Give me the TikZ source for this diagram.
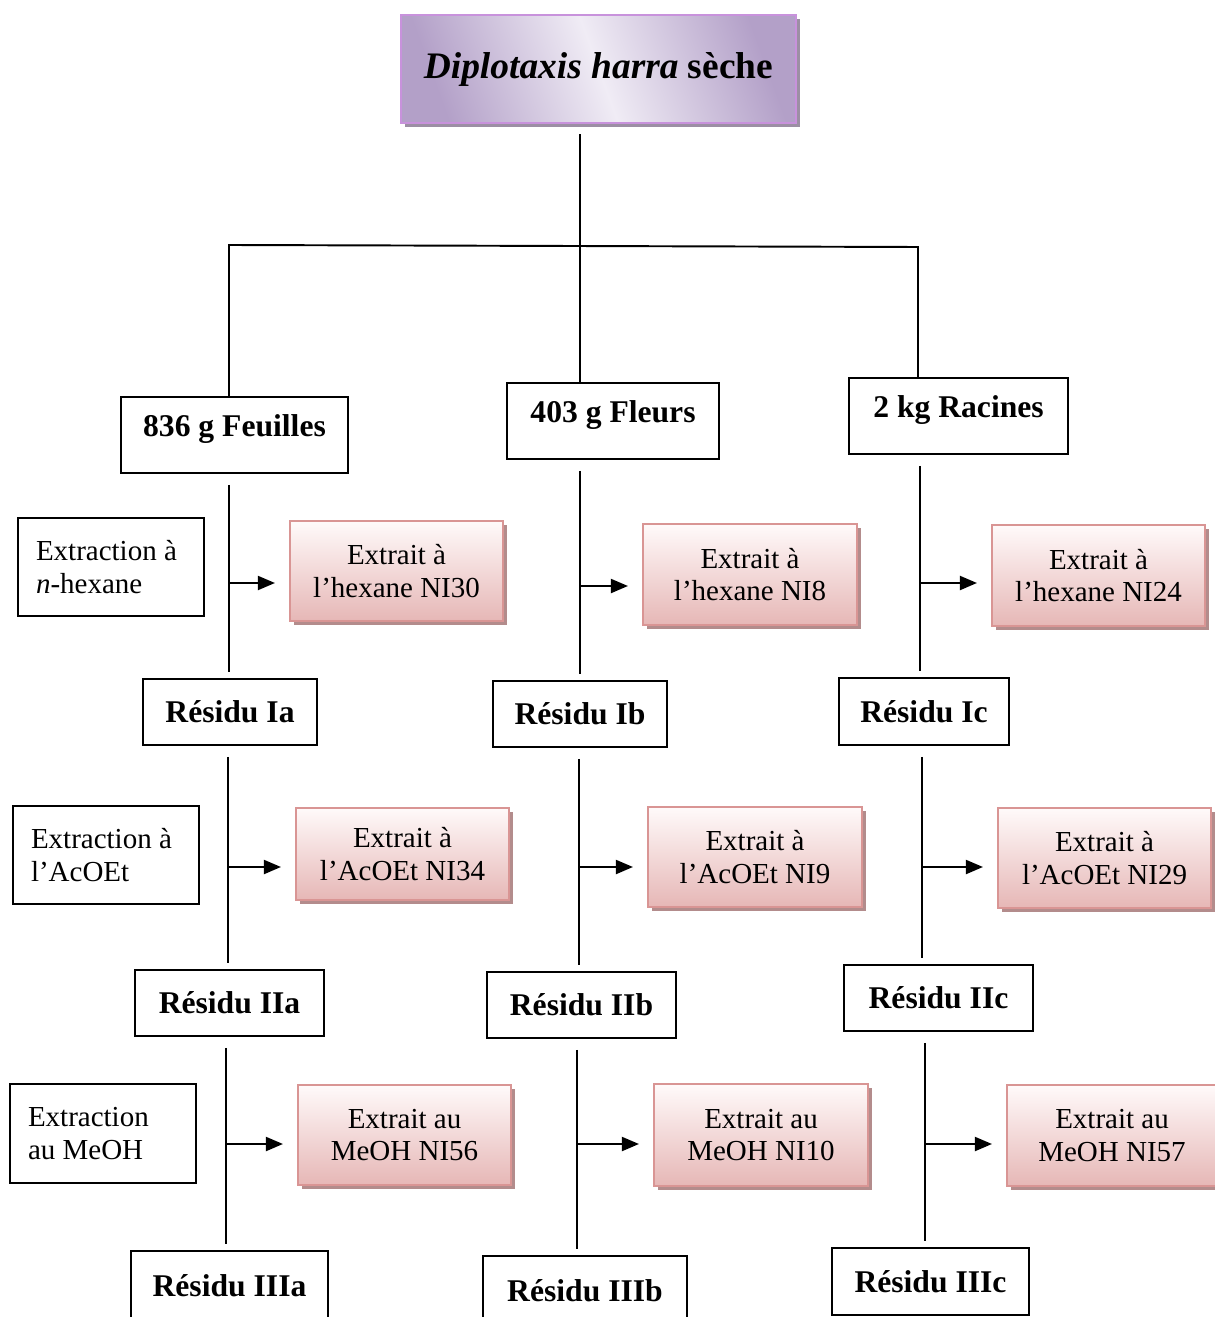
\documentclass[tikz,border=0pt]{standalone}
\usepackage{fontspec}
\setmainfont{Liberation Serif}
\usepackage{tikz}
\usetikzlibrary{arrows.meta, calc, shadows}
\usepackage{xcolor}
\definecolor{titleEdge}{HTML}{C892DC}
\definecolor{titleDark}{HTML}{B3A0C8}
\definecolor{titleLight}{HTML}{F0ECF5}
\definecolor{titleShadow}{HTML}{9C8FA4}
\definecolor{extraitEdge}{HTML}{D99594}
\definecolor{extraitTop}{HTML}{FFFAFA}
\definecolor{extraitBottom}{HTML}{E6B7B6}
\definecolor{extraitShadow}{HTML}{B38C8C}

\tikzset{
  sz/.style 2 args={minimum width=#1*0.02cm, minimum height=#2*0.02cm},
  box/.style={draw=black, line width=1pt, fill=white, inner sep=0pt},
  stage/.style={box, font=\fontsize{18}{20}\selectfont\bfseries},
  partie/.style={stage, text height=12pt, text depth=10pt},
  methode/.style={box, align=flush left, text width=3cm, font=\fontsize{16.5}{18.7}\selectfont},
  extrait/.style={draw=extraitEdge, line width=1.2pt, inner sep=0pt,
    top color=extraitTop, bottom color=extraitBottom, align=center,
    font=\fontsize{16.5}{18.7}\selectfont,
    drop shadow={shadow xshift=0.08cm, shadow yshift=-0.08cm,
                 fill=extraitShadow, opacity=1}},
  link/.style={line width=1.1pt},
  trunk/.style={link, shorten <=0.22cm, shorten >=0.12cm},
  arr/.style={link, -{Triangle[length=0.34cm, width=0.28cm]}, shorten >=0.28cm},
}

\begin{document}
\begin{tikzpicture}[x=0.02cm, y=-0.02cm]
  \useasboundingbox (0,0) rectangle (1214,1317);

  % plante
  \node[draw=titleEdge, line width=1.6pt, sz={395}{108},
        top color=titleDark, bottom color=titleDark, middle color=titleLight,
        shading angle=-70,
        drop shadow={shadow xshift=0.08cm, shadow yshift=-0.08cm,
                     fill=titleShadow, opacity=1},
        font=\fontsize{21.3}{24}\selectfont\bfseries]
    (plante) at (598.5,69) {\textit{Diplotaxis harra} sèche};

  % parties
  \node[partie, sz={227}{76}] (feu) at (234.5,435) {836 g Feuilles};
  \node[partie, sz={212}{76}] (fle) at (613,421) {403 g Fleurs};
  \node[partie, sz={219}{76}] (rac) at (958.5,416) {2 kg Racines};

  \coordinate (split) at (580,246);
  \coordinate (lt) at (229,245);
  \coordinate (rt) at (918,247);
  \draw[link, shorten <=0.2cm] (split |- plante.south) -- (split |- fle.north);
  \draw[link] (lt |- feu.north) -- (lt) -- (rt) -- (rt |- rac.north);

  % methodes
  \node[methode, sz={186}{98}] (meth1) at (111,567) {Extraction à\\\textit{n}-hexane};
  \node[methode, sz={186}{98}] (meth2) at (106,855) {Extraction à\\l’AcOEt};
  \node[methode, sz={186}{99}] (meth3) at (103,1133.5) {Extraction\\au MeOH};

  % residus
  \node[stage, sz={174}{66}] (resIa) at (230,712) {Résidu Ia};
  \node[stage, sz={189}{66}] (resIIa) at (229.5,1003) {Résidu IIa};
  \node[stage, sz={197}{70}] (resIIIa) at (229.5,1286) {Résidu IIIa};
  \node[stage, sz={174}{66}] (resIb) at (580,714) {Résidu Ib};
  \node[stage, sz={189}{66}] (resIIb) at (581.5,1005) {Résidu IIb};
  \node[stage, sz={204}{70}] (resIIIb) at (585,1291) {Résidu IIIb};
  \node[stage, sz={170}{67}] (resIc) at (924,711.5) {Résidu Ic};
  \node[stage, sz={189}{66}] (resIIc) at (938.5,998) {Résidu IIc};
  \node[stage, sz={197}{67}] (resIIIc) at (930.5,1281.5) {Résidu IIIc};

  % extraits
  \node[extrait, sz={213}{100}] (exa1) at (396.5,571) {Extrait à\\l’hexane NI30};
  \node[extrait, sz={213}{92}]  (exa2) at (402.5,854) {Extrait à\\l’AcOEt NI34};
  \node[extrait, sz={213}{100}] (exa3) at (404.5,1135) {Extrait au\\MeOH NI56};
  \node[extrait, sz={214}{101}] (exb1) at (750,574.5) {Extrait à\\l’hexane NI8};
  \node[extrait, sz={214}{100}] (exb2) at (755,857) {Extrait à\\l’AcOEt NI9};
  \node[extrait, sz={214}{102}] (exb3) at (761,1135) {Extrait au\\MeOH NI10};
  \node[extrait, sz={213}{101}] (exc1) at (1098.5,575.5) {Extrait à\\l’hexane NI24};
  \node[extrait, sz={213}{100}] (exc2) at (1104.5,858) {Extrait à\\l’AcOEt NI29};
  \node[extrait, sz={210}{101}] (exc3) at (1112,1135.5) {Extrait au\\MeOH NI57};

  % jonctions
  \coordinate (ja1) at (229,583);  \coordinate (ja2) at (228,867);  \coordinate (ja3) at (226,1144);
  \coordinate (jb1) at (580,586);  \coordinate (jb2) at (579,867);  \coordinate (jb3) at (577,1144);
  \coordinate (jc1) at (920,583);  \coordinate (jc2) at (922,867);  \coordinate (jc3) at (925,1144);

  \draw[trunk] (ja1 |- feu.south) -- (ja1 |- resIa.north);
  \draw[trunk] (ja2 |- resIa.south) -- (ja2 |- resIIa.north);
  \draw[trunk] (ja3 |- resIIa.south) -- (ja3 |- resIIIa.north);
  \draw[trunk] (jb1 |- fle.south) -- (jb1 |- resIb.north);
  \draw[trunk] (jb2 |- resIb.south) -- (jb2 |- resIIb.north);
  \draw[trunk] (jb3 |- resIIb.south) -- (jb3 |- resIIIb.north);
  \draw[trunk] (jc1 |- rac.south) -- (jc1 |- resIc.north);
  \draw[trunk] (jc2 |- resIc.south) -- (jc2 |- resIIc.north);
  \draw[trunk] (jc3 |- resIIc.south) -- (jc3 |- resIIIc.north);

  \draw[arr] (ja1) -- (ja1 -| exa1.west);
  \draw[arr] (ja2) -- (ja2 -| exa2.west);
  \draw[arr] (ja3) -- (ja3 -| exa3.west);
  \draw[arr] (jb1) -- (jb1 -| exb1.west);
  \draw[arr] (jb2) -- (jb2 -| exb2.west);
  \draw[arr] (jb3) -- (jb3 -| exb3.west);
  \draw[arr] (jc1) -- (jc1 -| exc1.west);
  \draw[arr] (jc2) -- (jc2 -| exc2.west);
  \draw[arr] (jc3) -- (jc3 -| exc3.west);
\end{tikzpicture}
\end{document}
